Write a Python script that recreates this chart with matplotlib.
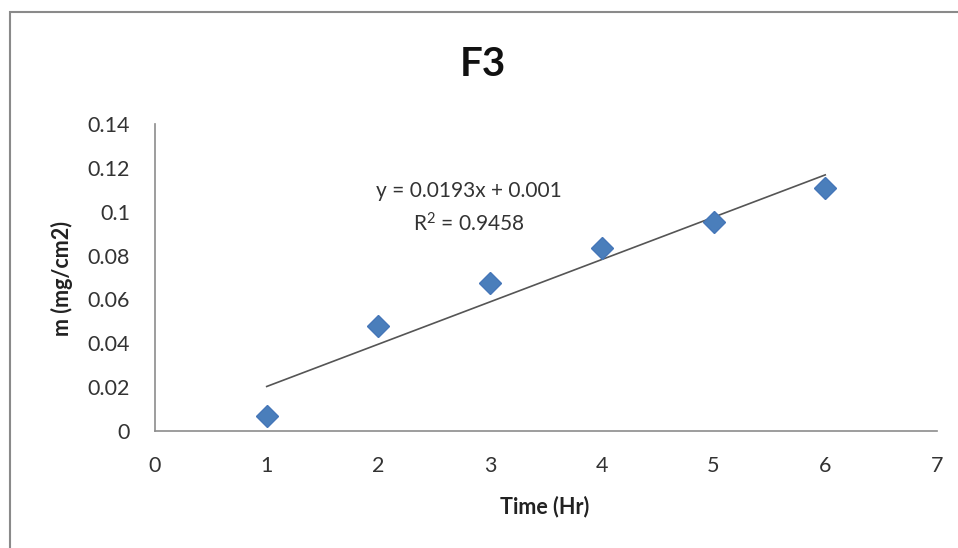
import matplotlib
matplotlib.use('Agg')
import matplotlib.pyplot as plt
from matplotlib.patches import Rectangle

plt.rcParams['font.family'] = ['Lato', 'DejaVu Sans']
plt.rcParams['mathtext.fontset'] = 'custom'
plt.rcParams['mathtext.rm'] = 'Lato'
plt.rcParams['mathtext.it'] = 'Lato'

# measured mass gain per area over time
hours = [1, 2, 3, 4, 5, 6]
mass = [0.007, 0.048, 0.0675, 0.0834, 0.0953, 0.111]

# linear trendline as reported
slope = 0.0193
intercept = 0.001
r_squared = 0.9458

x_ticks = [0, 1, 2, 3, 4, 5, 6, 7]
y_ticks = [0, 0.02, 0.04, 0.06, 0.08, 0.1, 0.12, 0.14]
y_tick_labels = ['0', '0.02', '0.04', '0.06', '0.08', '0.1', '0.12', '0.14']

fig = plt.figure(figsize=(9.58, 5.48), dpi=100)
ax = fig.add_axes([0.1618, 0.2135, 0.8162, 0.5602])

# chart area frame
fig.patches.append(Rectangle((10 / 958, -0.1), 1.2, 1 - 12 / 548 + 0.1,
                             transform=fig.transFigure, fill=False,
                             edgecolor='#8a8a8a', linewidth=1.5))

trend_x = [hours[0], hours[-1]]
trend_y = [slope * x + intercept for x in trend_x]
ax.plot(trend_x, trend_y, color='#555555', linewidth=1.2, zorder=2)
ax.plot(hours, mass, linestyle='none', marker='D', markersize=11.5,
        color='#4a7ebb', markeredgecolor='#4576b8', zorder=3)

ax.set_xlim(0, 7)
ax.set_ylim(0, 0.14)
ax.set_xticks(x_ticks)
ax.set_yticks(y_ticks)
ax.set_yticklabels(y_tick_labels)
ax.tick_params(axis='both', length=0, labelsize=15.5, labelcolor='#333333')
ax.tick_params(axis='x', pad=18)
ax.tick_params(axis='y', pad=18)

for side in ['top', 'right']:
    ax.spines[side].set_visible(False)
for side in ['left', 'bottom']:
    ax.spines[side].set_color('#8c8c8c')
    ax.spines[side].set_linewidth(1.2)

ax.text(2.81, 0.1095, 'y = 0.0193x + 0.001', ha='center', va='center',
        fontsize=15, color='#333333')
ax.text(2.81, 0.0945, 'R$^2$ = %.4f' % r_squared, ha='center', va='center',
        fontsize=15, color='#333333')

fig.text(483 / 958, 1 - 65 / 548, 'F3', ha='center', va='center',
         fontsize=29, fontweight='bold', color='#111111')
fig.text(545 / 958, 1 - 507 / 548, 'Time (Hr)', ha='center', va='center',
         fontsize=15.5, fontweight='bold', color='#222222')
fig.text(62 / 958, 1 - 278 / 548, 'm (mg/cm2)', ha='center', va='center',
         rotation=90, fontsize=15.5, fontweight='bold', color='#222222')

fig.savefig('out.png', dpi=100)
